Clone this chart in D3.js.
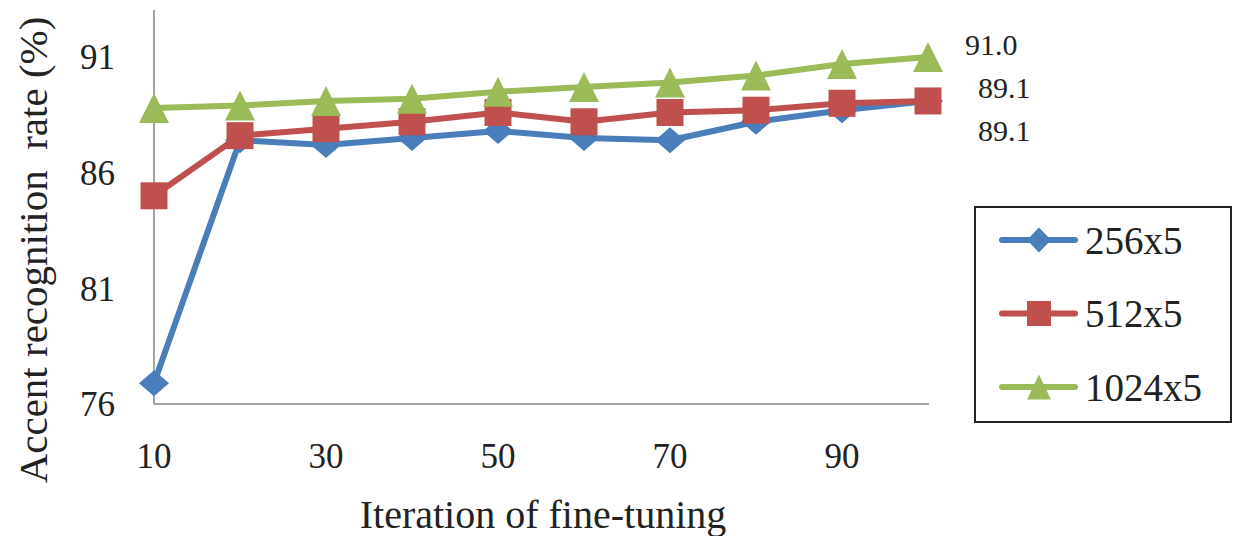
<!DOCTYPE html>
<html>
<head>
<meta charset="utf-8">
<script src="https://cdn.jsdelivr.net/npm/d3@7"></script>
<style>
  body { margin: 0; background: #fff; }
  svg { display: block; font-family: "Liberation Serif", "Times New Roman", serif; }
</style>
</head>
<body>
<svg id="chart" width="1233" height="536"></svg>
<script>
// data
const iterations = [10, 20, 30, 40, 50, 60, 70, 80, 90, 100];
const rate256 = [76.9, 87.4, 87.2, 87.5, 87.8, 87.5, 87.4, 88.2, 88.7, 89.1];
const rate512 = [85.0, 87.6, 87.9, 88.2, 88.6, 88.2, 88.6, 88.7, 89.0, 89.1];
const rate1024 = [88.8, 88.9, 89.1, 89.2, 89.5, 89.7, 89.9, 90.2, 90.7, 91.0];
const xTicks = [10, 30, 50, 70, 90];
const yTicks = [76, 81, 86, 91];
const seriesNames = ["256x5", "512x5", "1024x5"];
const endLabels = ["91.0", "89.1", "89.1"];

const series = [
  { name: seriesNames[0], values: rate256, color: "#4a7ebb", shape: "diamond" },
  { name: seriesNames[1], values: rate512, color: "#c0504d", shape: "square" },
  { name: seriesNames[2], values: rate1024, color: "#9bbb59", shape: "triangle" }
];

const svg = d3.select("#chart");
const x = d3.scaleLinear().domain([10, 100]).range([154, 928]);
const y = d3.scaleLinear().domain([76, 91]).range([404, 57]);

// marker path centred on 0,0
let markerPath = (shape, w, h) => {
  const a = w / 2, b = h / 2;
  if (shape === "diamond") return `M0,${-b}L${a},0L0,${b}L${-a},0Z`;
  if (shape === "square") return `M${-a},${-b}H${a}V${b}H${-a}Z`;
  return `M0,${-b}L${a},${b}L${-a},${b}Z`;
};
const markerSize = { diamond: [30, 26], square: [27, 27], triangle: [30, 30] };

// axes (plain lines, no ticks)
svg.append("line")
  .attr("x1", x(10)).attr("x2", x(10))
  .attr("y1", 10).attr("y2", y(76))
  .attr("stroke", "#868686").attr("stroke-width", 1.5);
svg.append("line")
  .attr("x1", x(10)).attr("x2", x(100) + 1)
  .attr("y1", y(76)).attr("y2", y(76))
  .attr("stroke", "#868686").attr("stroke-width", 1.5);

svg.selectAll(".ytick")
  .data(yTicks)
  .enter()
  .append("text")
  .attr("class", "ytick")
  .attr("x", 115)
  .attr("y", d => y(d))
  .attr("dy", "0.35em")
  .attr("text-anchor", "end")
  .attr("font-size", 35)
  .attr("fill", "#222")
  .text(d => d);

svg.selectAll(".xtick")
  .data(xTicks)
  .enter()
  .append("text")
  .attr("class", "xtick")
  .attr("x", d => x(d))
  .attr("y", y(76) + 52)
  .attr("dy", "0.35em")
  .attr("text-anchor", "middle")
  .attr("font-size", 35)
  .attr("fill", "#222")
  .text(d => d);

svg.append("text")
  .attr("x", 543)
  .attr("y", 528)
  .attr("text-anchor", "middle")
  .attr("font-size", 40)
  .attr("fill", "#222")
  .text("Iteration of fine-tuning");

svg.append("text")
  .attr("transform", "translate(47,250) rotate(-90)")
  .attr("text-anchor", "middle")
  .attr("font-size", 41)
  .attr("fill", "#222")
  .attr("xml:space", "preserve")
  .style("white-space", "pre")
  .text("Accent recognition  rate (%)");

// series lines + markers
const line = d3.line()
  .x((d, i) => x(iterations[i]))
  .y(d => y(d));

series.forEach(s => {
  const g = svg.append("g").attr("class", "series");
  g.append("path")
    .datum(s.values)
    .attr("d", line)
    .attr("fill", "none")
    .attr("stroke", s.color)
    .attr("stroke-width", 6)
    .attr("stroke-linejoin", "round");
  g.selectAll(".marker")
    .data(s.values)
    .enter()
    .append("path")
    .attr("class", "marker")
    .attr("transform", (d, i) => `translate(${x(iterations[i])},${y(d)})`)
    .attr("d", markerPath(s.shape, ...markerSize[s.shape]))
    .attr("fill", s.color);
});

// end-value labels
const last = iterations.length - 1;
svg.selectAll(".endlabel")
  .data(endLabels)
  .enter()
  .append("text")
  .attr("class", "endlabel")
  .attr("x", (d, i) => x(iterations[last]) + (i === 0 ? 37 : 50))
  .attr("y", (d, i) => y(rate1024[last]) - 13 + i * 43)
  .attr("dy", "0.35em")
  .attr("font-size", 30)
  .attr("fill", "#222")
  .text(d => d);

// legend
const legend = svg.append("g").attr("class", "legend");
legend.append("rect")
  .attr("x", 975).attr("y", 207)
  .attr("width", 256).attr("height", 215)
  .attr("fill", "#fff")
  .attr("stroke", "#222").attr("stroke-width", 2);

const legendY = d3.scalePoint().domain(seriesNames).range([240, 387]);
series.forEach(s => {
  const ly = legendY(s.name);
  legend.append("line")
    .attr("x1", 1002).attr("x2", 1075)
    .attr("y1", ly).attr("y2", ly)
    .attr("stroke", s.color).attr("stroke-width", 6)
    .attr("stroke-linecap", "round");
  legend.append("path")
    .attr("transform", `translate(1039,${ly})`)
    .attr("d", markerPath(s.shape, 24, 25))
    .attr("fill", s.color);
  legend.append("text")
    .attr("x", 1085).attr("y", ly)
    .attr("dy", "0.35em")
    .attr("font-size", 39)
    .attr("fill", "#222")
    .text(s.name);
});
</script>
</body>
</html>
